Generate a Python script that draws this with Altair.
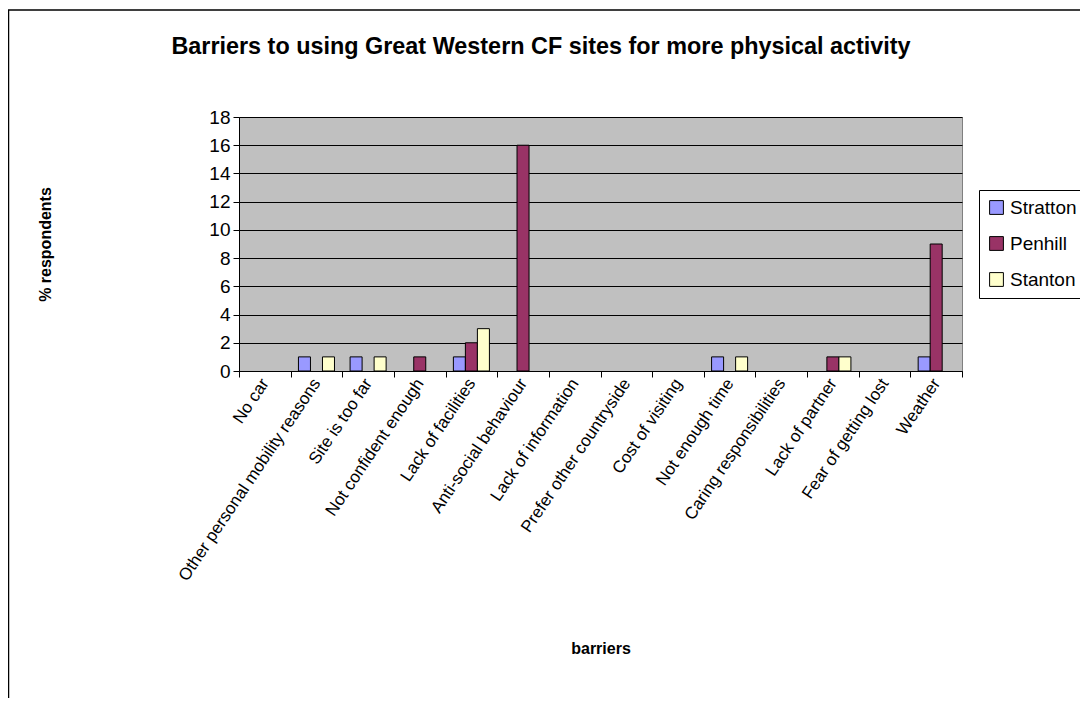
import altair as alt
import pandas as pd

categories = ["No car", "Other personal mobility reasons", "Site is too far",
              "Not confident enough", "Lack of facilities", "Anti-social behaviour",
              "Lack of information", "Prefer other countryside", "Cost of visiting",
              "Not enough time", "Caring responsibilities", "Lack of partner",
              "Fear of getting lost", "Weather"]
stratton = [0, 1, 1, 0, 1, 0, 0, 0, 0, 1, 0, 0, 0, 1]
penhill = [0, 0, 0, 1, 2, 16, 0, 0, 0, 0, 0, 1, 0, 9]
stanton = [0, 1, 1, 0, 3, 0, 0, 0, 0, 1, 0, 1, 0, 0]
series = ["Stratton", "Penhill", "Stanton"]
colors = ["#9999FF", "#993366", "#FFFFCC"]
y_ticks = [0, 2, 4, 6, 8, 10, 12, 14, 16, 18]
title_text = "Barriers to using Great Western CF sites for more physical activity"

rows = []
for i, c in enumerate(categories):
    for s, vals in zip(series, [stratton, penhill, stanton]):
        rows.append({"barrier": c, "site": s, "value": vals[i]})
df = pd.DataFrame(rows)
df = df[df["value"] > 0]

FONT = "Liberation Sans"

bars = alt.Chart(df).mark_bar(stroke="black", strokeWidth=1).encode(
    x=alt.X("barrier:N", sort=categories,
            scale=alt.Scale(domain=categories, paddingInner=0, paddingOuter=0),
            axis=alt.Axis(title="barriers", labelAngle=-56, labelFontSize=17,
                          labelFont=FONT, labelColor="black", tickBand="extent",
                          tickColor="black", tickSize=6, domainColor="black",
                          labelPadding=3, labelLimit=0, labelAlign="right",
                          labelBaseline="middle", titleFont=FONT, titleFontSize=16,
                          titleFontWeight="bold", titleColor="black",
                          titleY=277, titleBaseline="middle")),
    xOffset=alt.XOffset("site:N", sort=series,
                        scale=alt.Scale(domain=series, paddingInner=0, paddingOuter=0.65)),
    y=alt.Y("value:Q", scale=alt.Scale(domain=[0, 18], nice=False),
            axis=alt.Axis(title="% respondents", values=y_ticks, grid=True,
                          gridColor="black", gridWidth=1, tickColor="black",
                          tickSize=6, domainColor="black", labelFontSize=19,
                          labelFont=FONT, labelColor="black", labelPadding=3,
                          titleFont=FONT, titleFontSize=16, titleFontWeight="bold",
                          titleColor="black", titleX=-194, titleBaseline="middle")),
    color=alt.Color("site:N", sort=series,
                    scale=alt.Scale(domain=series, range=colors),
                    legend=alt.Legend(title=None, orient="none", legendX=740, legendY=73,
                                      strokeColor="black", fillColor="white", padding=8,
                                      symbolType="square", symbolSize=190,
                                      symbolStrokeColor="black", symbolStrokeWidth=1,
                                      symbolOpacity=1, labelFontSize=19, labelFont=FONT,
                                      labelColor="black", rowPadding=16, labelOffset=4)),
)

frame = alt.Chart(pd.DataFrame({"a": [0]})).mark_rect(
    filled=False, stroke="black", strokeWidth=1.5
).encode(x=alt.value(-230.5), x2=alt.value(900), y=alt.value(-107), y2=alt.value(700))

title = alt.Chart(pd.DataFrame({"t": [title_text]})).mark_text(
    font=FONT, fontSize=23.4, fontWeight="bold", color="black", align="center", baseline="middle"
).encode(text="t:N", x=alt.value(302), y=alt.value(-70))

chart = alt.layer(bars, frame, title).properties(
    width=723, height=254,
    autosize=alt.AutoSizeParams(type="none"),
    padding={"left": 231, "top": 109, "right": 118, "bottom": 327},
).configure_view(fill="#C0C0C0", stroke="#808080")

chart.save("out.html", embed_options={"renderer": "svg", "actions": False})
